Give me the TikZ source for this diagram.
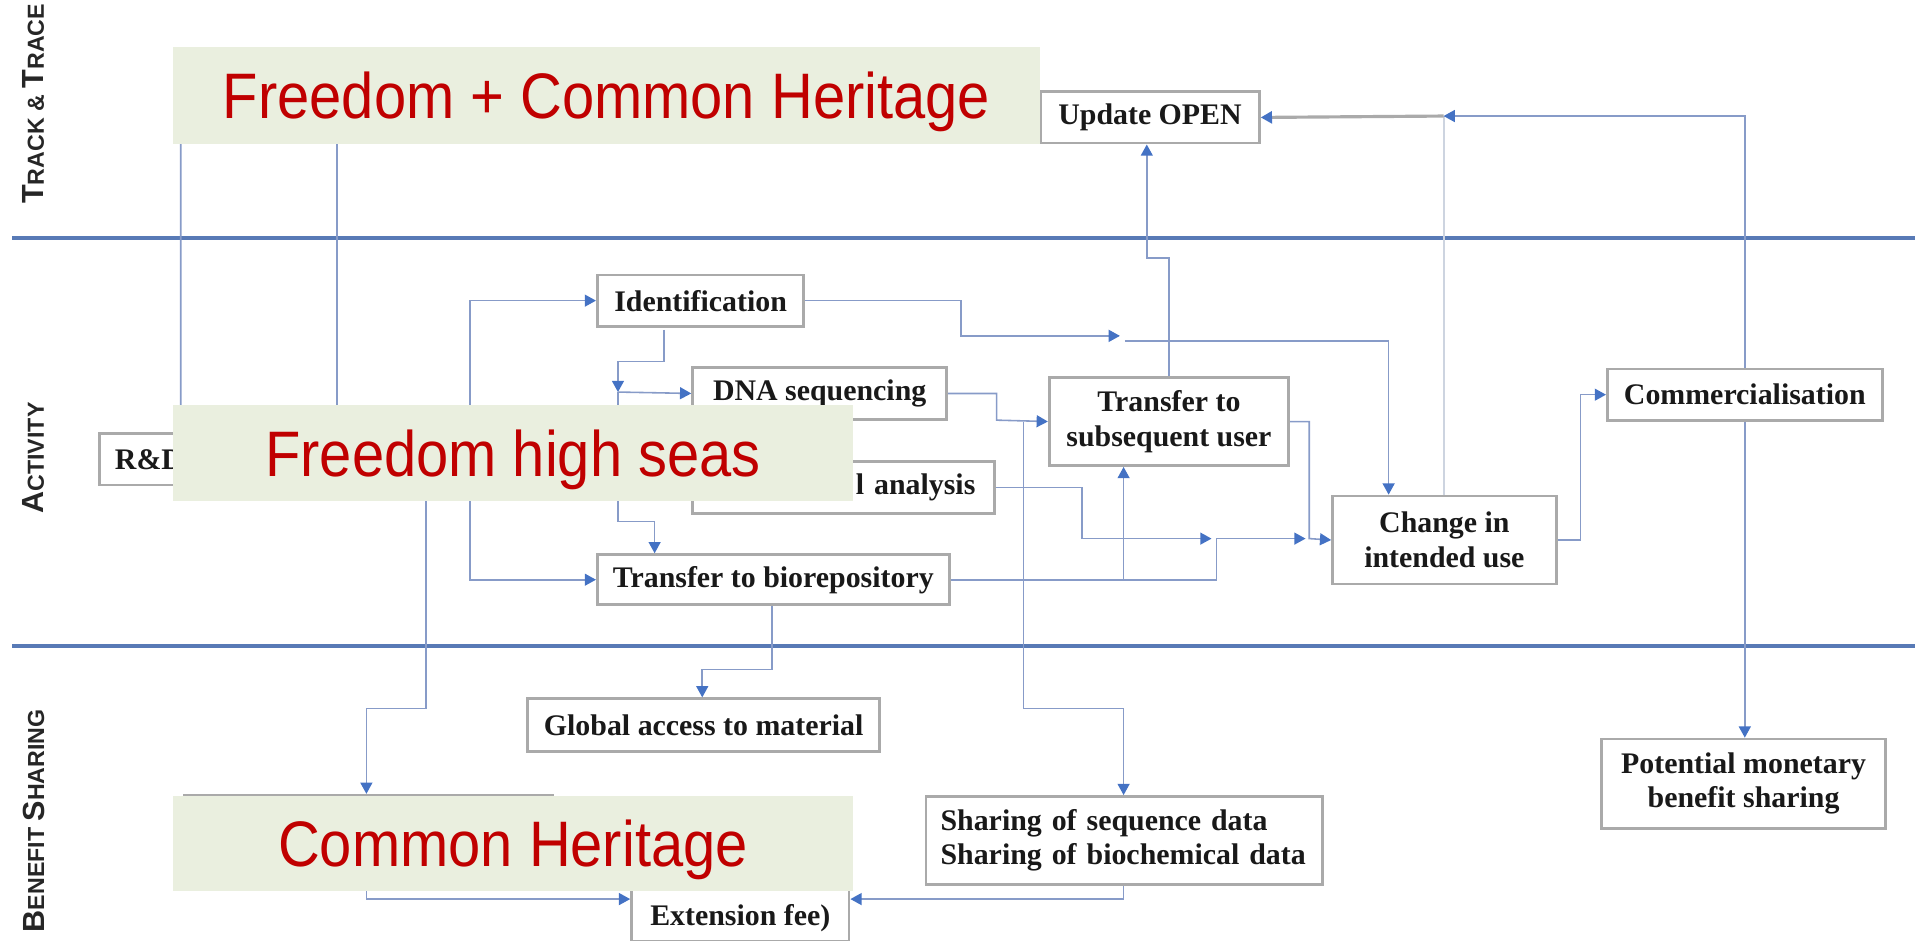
\documentclass[tikz,border=0pt]{standalone}
\usepackage{fontspec}
\setmainfont{Liberation Serif}
\newfontfamily\lanefont{Liberation Sans}
\newfontfamily\narrowfont[FakeStretch=0.9]{Liberation Sans}
\usetikzlibrary{arrows.meta}
\definecolor{connblue}{RGB}{135,155,200}
\definecolor{arrowblue}{RGB}{68,114,196}
\definecolor{boxgray}{RGB}{170,170,170}
\definecolor{sepblue}{RGB}{88,122,182}
\definecolor{greenfill}{RGB}{234,239,223}
\definecolor{redtext}{RGB}{192,0,0}
\definecolor{lightline}{RGB}{205,212,224}
\def\uu{0.12213mm}
\newcommand\Lcap[1]{{\fontsize{8.7}{10}\selectfont #1}}
\newcommand\Scap[1]{{\fontsize{6.6}{8}\selectfont #1}}
\tikzset{
  box/.style={draw=boxgray, line width=0.8pt, fill=white, inner sep=0pt,
    font=\fontsize{8.5}{9.8}\selectfont\bfseries, text=black!90, align=center, anchor=north west},
  conn/.style={draw=connblue, line width=0.45pt},
  arr/.style={conn, -{Triangle[length=3.2pt,width=3.4pt,color=arrowblue]}},
  greenbox/.style={fill=greenfill, text=redtext, font=\narrowfont\fontsize{18.3}{20}\selectfont,
    inner sep=0pt, anchor=north west, text height=13pt, text depth=0pt},
  lane/.style={rotate=90, font=\lanefont\bfseries, text=black!85, inner sep=0pt},
  sepline/.style={draw=sepblue, line width=1.1pt}
}
\begin{document}
\begin{tikzpicture}[x=0.12213mm, y=-0.12213mm]
\useasboundingbox (0,0) rectangle (1568,770);

% lane separators
\draw[sepline] (10,195) -- (1568,195);
\draw[sepline] (10,529) -- (1568,529);

% lane labels
\node[lane] (lt) at (27.5,85) {\Lcap{T}\Scap{RACK \& }\Lcap{T}\Scap{RACE}};
\node[lane] (la) at (27.5,375) {\Lcap{A}\Scap{CTIVITY}};
\node[lane] (lb) at (27.5,672) {\Lcap{B}\Scap{ENEFIT }\Lcap{S}\Scap{HARING}};

% boxes
\node[box, minimum width=179*\uu, minimum height=42*\uu] (upd) at (851,74) {Update OPEN};
\node[box, minimum width=280*\uu, minimum height=42*\uu, text width=254*\uu, inner xsep=13*\uu, align=left] (rd) at (80,354) {R\&D};
\node[box, minimum width=169*\uu, minimum height=42*\uu] (ident) at (488,224) {Identification};
\node[box, minimum width=208*\uu, minimum height=42*\uu] (dna) at (566,300) {DNA sequencing};
\node[box, minimum width=247*\uu, minimum height=42*\uu, text width=216*\uu, inner xsep=15.5*\uu, align=right] (bio) at (566,377) {l analysis};
\node[box, minimum width=288*\uu, minimum height=41*\uu] (trb) at (488,453) {Transfer to biorepository};
\node[box, minimum width=196*\uu, minimum height=72*\uu] (tsu) at (858,308) {Transfer to\\subsequent user};
\node[box, minimum width=183*\uu, minimum height=72*\uu] (chg) at (1090,405) {Change in\\intended use};
\node[box, minimum width=225*\uu, minimum height=42*\uu] (com) at (1315,301) {Commercialisation};
\node[box, minimum width=233*\uu, minimum height=73*\uu] (pmb) at (1310,604) {Potential monetary\\benefit sharing};
\node[box, minimum width=288*\uu, minimum height=43*\uu] (gam) at (431,571) {Global access to material};
\node[box, minimum width=325*\uu, minimum height=72*\uu, text width=301*\uu, inner xsep=12*\uu, align=left] (shr) at (757,651) {Sharing of sequence data\\Sharing of biochemical data};
\node[box, minimum width=301*\uu, minimum height=77*\uu] (hid) at (150,650) {};
\node[box, minimum width=178*\uu, minimum height=70*\uu, text height=17.3pt, text depth=2pt] (ext) at (516,700) {Extension fee)};

% connectors
\draw[arr] (148,0 |- rd.north) -- (148,95) -- (upd.west);
\draw[conn] (276,0 |- rd.north) -- (276,95);
\draw[arr] (349,0 |- rd.south) -- (349,580) -| (300,0 |- hid.north);
\draw[arr] (rd.east) -| (385,0 |- ident.west) -- (ident.west);
\draw[arr] (385,0 |- rd.east) |- (trb.west);

\coordinate (j2) at (506,321);
\draw[arr] (543.5,270) -- (543.5,296) -| (j2);
\draw[arr] (j2) -- (dna.west);
\draw[arr] (j2) -- (506,427) -| (536,0 |- trb.north);

\coordinate (j3) at (917,275);
\draw[arr] (ident.east) -| (787,275) -- (j3);
\coordinate (j4) at (921,279);
\draw[arr] (j4) -| (1137,0 |- chg.north);

\draw[arr] (dna.east) -| (816,344) -- (tsu.west);
\draw[arr] (838,0 |- tsu.west) -- (838,580) -| (920,0 |- shr.north);

\coordinate (j5) at (992,441);
\draw[arr] (bio.east) -| (886,441) -- (j5);
\coordinate (j6) at (1069,441);
\draw[arr] (trb.east) -| (996,441) -- (j6);
\draw[arr] (920,0 |- trb.east) -- (920,0 |- tsu.south);
\draw[arr] (tsu.east) -| (1072,441) -- (chg.west);

\draw[arr] (957,0 |- tsu.north) -- (957,211) -| (939,0 |- upd.south);

\coordinate (j7) at (1182,95);
\draw[draw=lightline, line width=0.6pt] (1182,0 |- chg.north) -- (j7);
\draw[draw=boxgray, line width=0.9pt, -{Triangle[length=3.2pt,width=3.4pt,color=arrowblue]}] (j7) -- (upd.east);
\draw[arr] (com.north) |- (j7);
\draw[arr] (chg.east) -- (1294,0 |- chg.east) |- (com.west);
\draw[arr] (com.south) -- (com.south |- pmb.north);

\draw[arr] (632,0 |- trb.south) -- (632,548) -| (575,0 |- gam.north);
\draw[arr] (920,0 |- shr.south) |- (ext.east);
\draw[arr] (300,0 |- hid.south) |- (ext.west);

% overlay labels
\node[greenbox, minimum width=710*\uu, minimum height=79*\uu] (g1) at (141,38) {Freedom + Common Heritage};
\node[greenbox, minimum width=557*\uu, minimum height=79*\uu] (g2) at (141,331) {Freedom high seas};
\node[greenbox, minimum width=557*\uu, minimum height=78*\uu] (g3) at (141,651) {Common Heritage};
\end{tikzpicture}
\end{document}
